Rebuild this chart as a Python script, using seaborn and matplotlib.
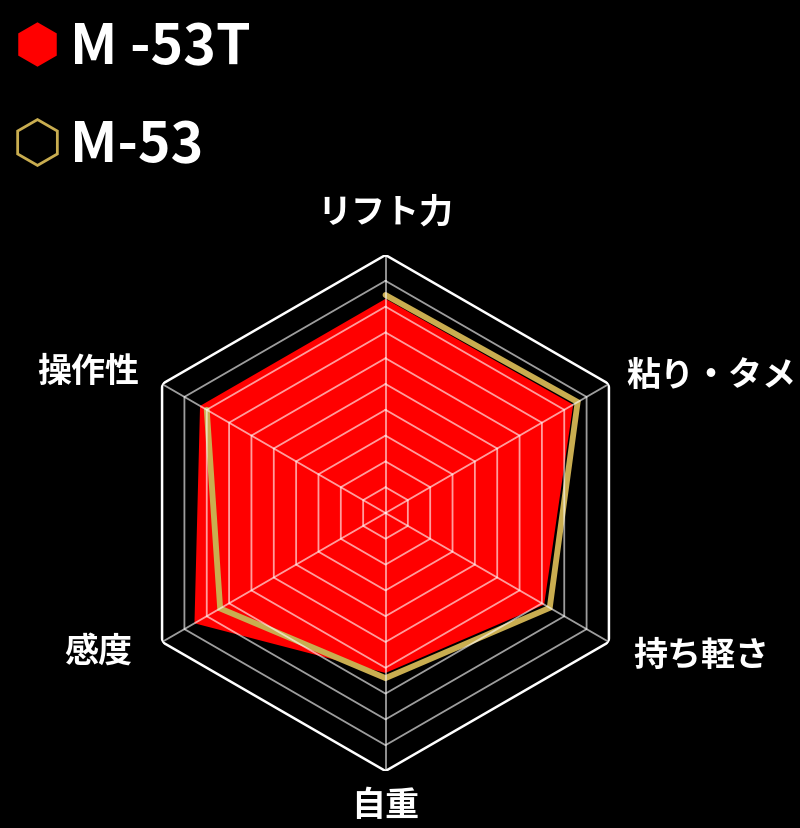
import numpy as np
import pandas as pd
import matplotlib
matplotlib.use("Agg")
import matplotlib.pyplot as plt
from matplotlib.lines import Line2D
import seaborn as sns

# ---- data ----
categories = ["リフト力", "粘り・タメ", "持ち軽さ", "自重", "感度", "操作性"]
m53t_values = [8.3, 8.4, 7.1, 6.2, 8.55, 8.3]
m53_values = [8.45, 8.6, 7.35, 6.4, 7.4, 8.0]
series_names = ["M -53T", "M-53"]
ring_levels = list(range(1, 11))
r_max = 10

RED = "#ff0000"
GOLD = "#c9ad50"

sns.set_theme(style="dark", rc={"figure.facecolor": "black", "axes.facecolor": "black",
                                "savefig.facecolor": "black"})
plt.rcParams["font.family"] = ["Noto Sans CJK JP", "DejaVu Sans"]

W, H = 800, 829
fig = plt.figure(figsize=(W / 100, H / 100), dpi=100)

cx, cy, R = 385.5, 514.0, 258.0
ax = fig.add_axes([(cx - R) / W, (H - cy - R) / H, 2 * R / W, 2 * R / H], projection="polar")
ax.set_facecolor("black")
ax.set_theta_offset(np.pi / 2)
ax.set_theta_direction(-1)

n = len(categories)
theta = np.linspace(0, 2 * np.pi, n, endpoint=False)
theta_closed = np.append(theta, theta[0])

df = pd.DataFrame({
    "theta": np.concatenate([theta_closed, theta_closed]),
    "value": m53t_values + [m53t_values[0]] + m53_values + [m53_values[0]],
    "series": [series_names[0]] * (n + 1) + [series_names[1]] * (n + 1),
})

# red filled area
d_red = df[df.series == series_names[0]]
ax.fill(d_red["theta"], d_red["value"], color=RED, lw=0, zorder=2)

# gold outline
d_gold = df[df.series == series_names[1]]
sns.lineplot(data=d_gold, x="theta", y="value", sort=False, ax=ax, color=GOLD,
             lw=4.2, solid_joinstyle="miter", zorder=3, legend=False)

# hexagonal grid
for lev in ring_levels:
    if lev == r_max:
        ax.plot(theta_closed, [lev] * (n + 1), color="white", lw=1.8, zorder=5,
                solid_joinstyle="miter")
    else:
        ax.plot(theta_closed, [lev] * (n + 1), color="white", alpha=0.62, lw=1.3, zorder=4)
for t in theta:
    ax.plot([t, t], [0, r_max], color="white", alpha=0.62, lw=1.3, zorder=4)

ax.set_ylim(0, r_max)
ax.set_xticks([])
ax.set_yticks([])
ax.grid(False)
ax.spines["polar"].set_visible(False)
ax.set_xlabel("")
ax.set_ylabel("")

# category labels
label_pos = [(385, 212), (711, 375), (701, 655), (385, 806), (98, 651), (88, 372)]
for lab, (px, py) in zip(categories, label_pos):
    fig.text(px / W, 1 - py / H, lab, color="white", fontsize=24.5, fontweight="bold",
             ha="center", va="center")

# legend
handles = [
    Line2D([], [], marker="h", ls="none", ms=32, mfc=RED, mec=RED, mew=0),
    Line2D([], [], marker="h", ls="none", ms=33, mfc="none", mec=GOLD, mew=2),
]
leg = fig.legend(handles, series_names, loc="upper left", bbox_to_anchor=(9 / W, 1 - 20 / H),
                 frameon=False, handlelength=1.0, handletextpad=0.1,
                 borderpad=0, borderaxespad=0, labelspacing=0.76,
                 prop={"weight": "bold", "size": 40})
for t in leg.get_texts():
    t.set_color("white")

fig.savefig("out.png", dpi=100, facecolor="black")
